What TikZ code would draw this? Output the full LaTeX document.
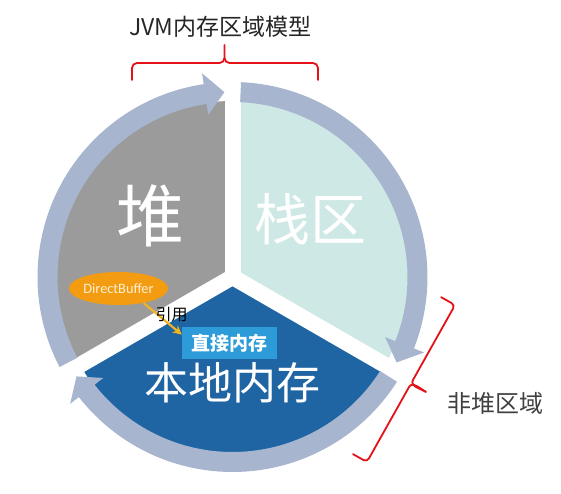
\documentclass[tikz,border=0pt]{standalone}
\usepackage{fontspec}
\newfontfamily\cjk{Noto Sans CJK SC}
\newfontfamily\lat{Carlito}
\usetikzlibrary{arrows.meta,shapes.geometric}
\definecolor{ringc}{RGB}{167,181,206}
\definecolor{heapc}{RGB}{155,155,155}
\definecolor{stackc}{RGB}{206,233,229}
\definecolor{nativec}{RGB}{31,101,163}
\definecolor{directc}{RGB}{45,155,216}
\definecolor{bufc}{RGB}{243,156,18}
\definecolor{buftext}{RGB}{255,240,210}
\definecolor{goldc}{RGB}{240,180,30}
\definecolor{bracec}{RGB}{228,18,24}
\definecolor{txtc}{RGB}{64,64,64}
\definecolor{titlec}{RGB}{38,38,38}
\begin{document}
\begin{tikzpicture}[x=1pt,y=1pt,
  bigtext/.style={text=white,font=\cjk\fontsize{#1}{#1}\selectfont,inner sep=0pt},
  bracestyle/.style={draw=bracec,line width=1.8pt,line cap=round,line join=round},
  ringarrow/.style={fill=ringc}]
\useasboundingbox (0,0) rectangle (561,494);
\begin{scope}[shift={(232.5,217)}]
  \fill[heapc] (0,0) -- (90:176pt) arc[start angle=90,end angle=210,radius=176pt] -- cycle;
  \fill[stackc] (0,0) -- (-30:176pt) arc[start angle=-30,end angle=90,radius=176pt] -- cycle;
  \fill[nativec] (0,0) -- (210:176pt) arc[start angle=210,end angle=330,radius=176pt] -- cycle;
  \foreach \a in {90,210,330} \draw[white,line width=16pt] (0,0) -- (\a:179pt);
  \fill[white] (0,0) circle (6pt);
  \foreach \s/\b/\t in {207.5/98.5/92.5, 87.5/-21.5/-27.5, -32.5/-142/-147.5}
    \fill[ringarrow] (\s:195pt) arc[start angle=\s,end angle=\b,radius=195pt]
      -- (\b:206pt) -- (\t:185pt) -- (\b:164pt) -- (\b:175pt)
      arc[start angle=\b,end angle=\s,radius=175pt] -- cycle;
\end{scope}
\node[bigtext=68] (heap) at (150,278) {堆};
\node[bigtext=56] (stack) at (310,275) {栈区};
\node[bigtext=44] (native) at (232.5,111) {本地内存};
\node[fill=directc,minimum width=95pt,minimum height=32pt,inner sep=0pt,text=white,
  font=\cjk\bfseries\fontsize{19}{19}\selectfont] (zj) at (229.5,151) {直接内存};
\node[ellipse,fill=bufc,minimum width=87pt,minimum height=33pt,inner sep=0pt,text=buftext,
  font=\lat\fontsize{14.3}{14.3}\selectfont] (db) at (118.5,205.5) {DirectBuffer};
\draw[goldc,line width=2.2pt,-{Stealth[length=9pt,width=9pt]}] (db.-30) -- (zj.170);
\node[font=\cjk\fontsize{16}{16}\selectfont,inner sep=0pt] (yy) at (171.5,179.5) {引用};
\node[font=\cjk\fontsize{23}{23}\selectfont,text=titlec,inner sep=0pt] (title) at (220.5,467.5) {JVM内存区域模型};
\node[font=\cjk\fontsize{24}{24}\selectfont,text=txtc,inner sep=0pt] (nonheap) at (495,91) {非堆区域};
% top brace
\draw[bracestyle] (132,414) -- (132,426) to[out=90,in=180] (137,431) -- (219.5,431)
  to[out=0,in=-90] (224.5,436) -- (224.5,449);
\draw[bracestyle] (224.5,436) to[out=-90,in=180] (229.5,431) -- (313,431)
  to[out=0,in=90] (318,426) -- (318,414);
% right brace
\begin{scope}[shift={(411,110.5)},rotate=-29.3]
  \draw[bracestyle] (-16,90) -- (-4,90) to[out=0,in=90] (0,86) -- (0,4)
    to[out=-90,in=180] (17,0);
  \draw[bracestyle] (17,0) to[out=180,in=90] (0,-4) -- (0,-86)
    to[out=-90,in=0] (-4,-90) -- (-16,-90);
\end{scope}
\end{tikzpicture}
\end{document}
